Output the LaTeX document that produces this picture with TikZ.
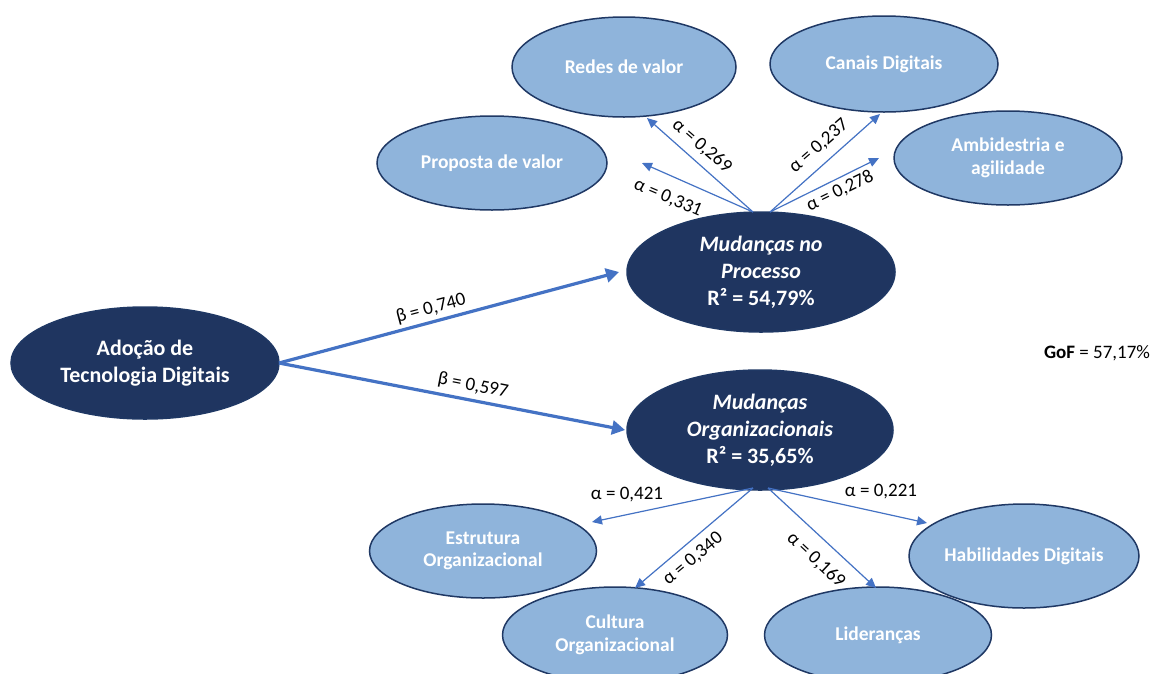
\documentclass[tikz,border=0pt]{standalone}
\usepackage{fontspec}
\setmainfont{Carlito}
\usetikzlibrary{shapes.geometric,arrows.meta}
\definecolor{navy}{HTML}{1F3560}
\definecolor{lightb}{HTML}{8FB4DB}
\definecolor{edgeb}{HTML}{1F3864}
\definecolor{arr}{HTML}{4472C4}
\begin{document}
\begin{tikzpicture}[x=1pt,y=-1pt,
 dark/.style={ellipse, fill=navy, draw=edgeb, line width=1.5pt, text=white, font=\fontsize{22}{27}\selectfont\bfseries, align=center, inner sep=0pt},
 light/.style={ellipse, fill=lightb, draw=edgeb, line width=1.5pt, text=white, font=\fontsize{19.5}{22.5}\selectfont\bfseries, align=center, inner sep=0pt},
 thinarrow/.style={draw=arr, line width=1.2pt, -{Triangle[width=9pt,length=10pt]}},
 thickarrow/.style={draw=arr, line width=3.2pt, -{Triangle[width=14pt,length=13pt]}},
 lab/.style={font=\fontsize{19}{21}\selectfont, inner sep=0pt}]
\useasboundingbox (0,0) rectangle (1153,673);
\fill[white] (0,0) rectangle (1153,673);

% nodes
\node[light, minimum width=224pt, minimum height=100pt] (redes) at (624,67) {Redes de valor};
\node[light, minimum width=228pt, minimum height=96pt] (canais) at (884,64) {Canais Digitais};
\node[light, minimum width=230pt, minimum height=94pt] (proposta) at (492,163) {Proposta de valor};
\node[light, minimum width=228pt, minimum height=94pt] (ambi) at (1008,158) {Ambidestria e\\agilidade};
\node[dark, minimum width=268pt, minimum height=120pt] (proc) at (761,272) {\textit{Mudanças no}\\\textit{Processo}\\R² = 54,79\%};
\node[dark, minimum width=268pt, minimum height=112pt] (adocao) at (145,363) {Adoção de\\Tecnologia Digitais};
\node[dark, minimum width=266pt, minimum height=120pt] (org) at (760,430) {\textit{Mudanças}\\\textit{Organizacionais}\\R² = 35,65\%};
\node[light, minimum width=227pt, minimum height=94pt] (estr) at (483,551) {Estrutura\\Organizacional};
\node[light, minimum width=225pt, minimum height=96pt] (cult) at (615,635) {Cultura\\Organizacional};
\node[light, minimum width=227pt, minimum height=96pt] (lid) at (878,635) {Lideranças};
\node[light, minimum width=230pt, minimum height=104pt] (hab) at (1024,556) {Habilidades Digitais};
\node[font=\fontsize{19}{21}\selectfont] (gof) at (1097,353) {\textbf{GoF} = 57,17\%};

% connector end points
\coordinate (p1) at (753,212);
\coordinate (p2) at (770,212);
\coordinate (tredes) at (647,118);
\coordinate (tprop) at (642,163);
\coordinate (tcan) at (880,114);
\coordinate (tambi) at (879,158);
\coordinate (o1) at (753,488);
\coordinate (o2) at (768,488);
\coordinate (testr) at (592,522);
\coordinate (tcult) at (635,588);
\coordinate (tlid) at (876,588);
\coordinate (thab) at (927,523);
\coordinate (a0) at (279,363);
\coordinate (tproc) at (619,272);
\coordinate (torg) at (625,430);

\draw[thinarrow] (p1) -- (tredes);
\draw[thinarrow] (p1) -- (tprop);
\draw[thinarrow] (p2) -- (tcan);
\draw[thinarrow] (p2) -- (tambi);
\draw[thinarrow] (o1) -- (testr);
\draw[thinarrow] (o1) -- (tcult);
\draw[thinarrow] (o2) -- (tlid);
\draw[thinarrow] (o2) -- (thab);
\draw[thickarrow] (a0) -- (tproc);
\draw[thickarrow] (a0) -- (torg);

% labels
\node[lab, rotate=-41] (l269) at (702,146) {α = 0,269};
\node[lab, rotate=-23] (l331) at (668,198) {α = 0,331};
\node[lab, rotate=41] (l237) at (819,146) {α = 0,237};
\node[lab, rotate=26] (l278) at (840,191) {α = 0,278};
\node[lab, rotate=15] (l740) at (431,309) {β = 0,740};
\node[lab, rotate=-11] (l597) at (473,386) {β = 0,597};
\node[lab] (l421) at (627,495) {α = 0,421};
\node[lab, rotate=40] (l340) at (693,559) {α = 0,340};
\node[lab, rotate=-43] (l169) at (816,560) {α = 0,169};
\node[lab] (l221) at (881,492) {α = 0,221};
\end{tikzpicture}
\end{document}
